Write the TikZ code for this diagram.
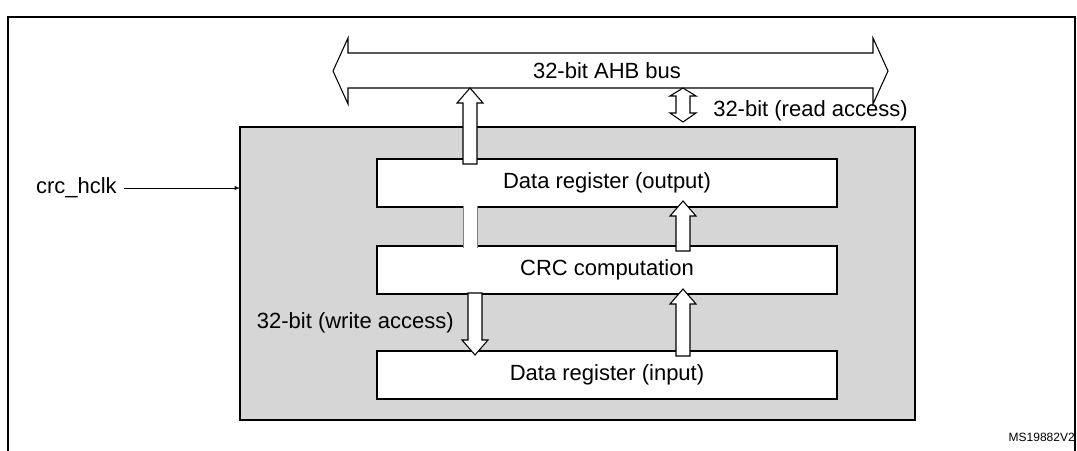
\documentclass[tikz,border=0pt]{standalone}
\usepackage{fontspec}
\setmainfont{Liberation Sans}
\usetikzlibrary{positioning}
\tikzset{
  reg/.style={draw, thick, fill=white, minimum width=345pt, minimum height=36pt, inner sep=0pt},
  fat/.style={draw, thick, fill=white},
  lbl/.style={inner sep=0.75pt}
}
% hollow arrow: x, y tail, y tip
\newcommand{\fatarrow}[3]{%
  \draw[fat] ({#1-7},#2) -- ({#1-7},{#3+(#2>#3 ? 15 : -15)}) -- ({#1-13},{#3+(#2>#3 ? 15 : -15)})
    -- (#1,#3) -- ({#1+13},{#3+(#2>#3 ? 15 : -15)}) -- ({#1+7},{#3+(#2>#3 ? 15 : -15)}) -- ({#1+7},#2) -- cycle;}
\begin{document}
\begin{tikzpicture}[x=0.75pt,y=0.75pt,yscale=-1,xscale=1,font=\fontsize{16.5}{19}\selectfont]
\useasboundingbox (0,0) rectangle (1077,450);
\fill[white] (0,0) rectangle (1077,450);

%Outer frame
\draw[thick] (8,17) rectangle (1075,470);

%Gray block
\draw[thick, fill=black!16] (240,127) rectangle (915,420);

%Bus
\draw[fat] (333,71) -- (348,38) -- (348,53) -- (873,53) -- (873,38) -- (888,71)
  -- (873,104) -- (873,88) -- (348,88) -- (348,104) -- cycle;
\node[lbl] (bus) at (607,71) {32-bit AHB bus};

%Registers
\node[reg] (out) at (607,183) {Data register (output)};
\node[reg] (crc) at (607,270) {CRC computation};
\node[reg] (in) at (607,375) {Data register (input)};

%Fat arrows
\fatarrow{470}{164}{88}
\fill[white] (463,206) rectangle (477,248);
\draw[black!50] (463,206) -- (463,248) (477,206) -- (477,248);
\fatarrow{683}{251}{201}
\fatarrow{475}{293}{355}
\fatarrow{683}{356}{289}
\draw[fat] (676,101) -- (676,96) -- (670,96) -- (683,88) -- (696,96) -- (690,96) -- (690,113)
  -- (696,113) -- (683,122) -- (670,113) -- (676,113) -- cycle;

%Labels
\node[lbl, anchor=west] (rd) at (712,111) {32-bit (read access)};
\node[lbl, anchor=east] (wr) at (455,323) {32-bit (write access)};
\node[lbl, anchor=east] (clk) at (118,188) {crc\_hclk};
\coordinate (clkin) at (240,188);
\draw[-latex] (clk.east) ++(6,0) -- (clkin);
\node[lbl, anchor=east, font=\fontsize{9}{10}\selectfont] (ms) at (1076,437) {MS19882V2};
\end{tikzpicture}
\end{document}
